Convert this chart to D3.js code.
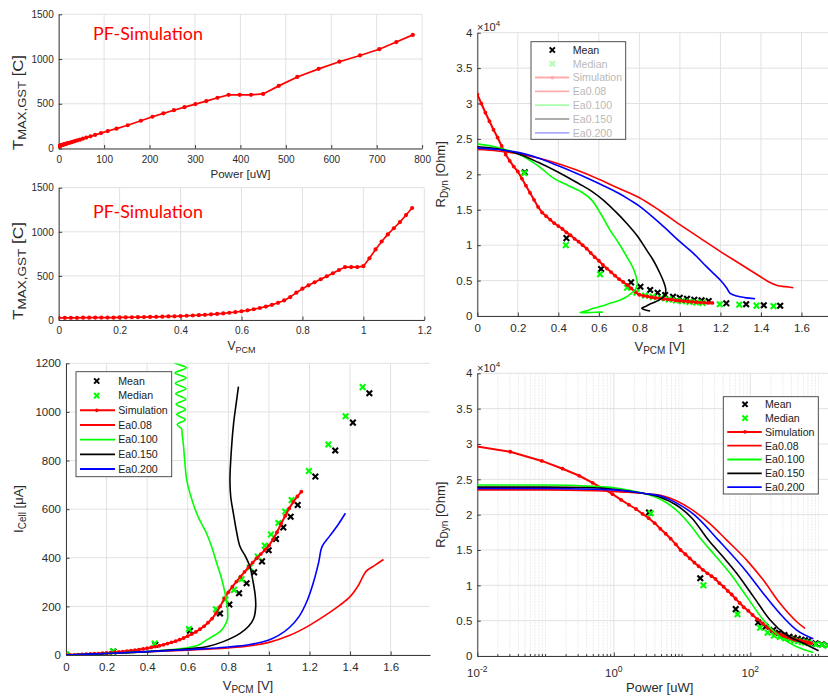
<!DOCTYPE html>
<html>
<head>
<meta charset="utf-8">
<title>PF-Simulation vs. measurement</title>
<script src="https://cdn.jsdelivr.net/npm/d3@7/dist/d3.min.js"></script>
<style>
  html, body { margin: 0; padding: 0; background: #ffffff; }
  svg { display: block; }
</style>
</head>
<body>
<script>
// ---------- phase-field simulation sweep ----------
const simV = [0,0.02,0.04,0.06,0.08,0.10,0.12,0.14,0.16,0.18,0.20,0.22,0.24,0.26,0.28,0.30,0.32,0.34,0.36,0.38,
  0.40,0.42,0.44,0.46,0.48,0.50,0.52,0.54,0.56,0.58,0.60,0.62,0.64,0.66,0.68,0.70,0.72,0.74,0.76,0.78,
  0.80,0.82,0.84,0.86,0.88,0.90,0.92,0.94,0.96,0.98,1.00,1.02,1.04,1.06,1.08,1.10,1.12,1.14,1.16];          // V_PCM [V]
const simI = [0,0.4,0.76,1.47,2.22,3.12,4.08,5.1,6.0,7.1,8.3,9.6,11.0,12.5,14.2,16,18,20,22.5,25,
  28,31,34.5,38,42,47,52,57,63,70,78,86,95,106,118,133,150,172,200,232,
  258,281,302,322,342,361,380,398,415,432,450,475,505,540,572,603,630,652,672];                            // I_Cell [uA]
const simTmax = [25,25,25,25,26,26,27,27,28,28,29,30,31,32,33,35,36,38,40,42,
  45,48,51,55,59,64,69,75,82,90,99,110,122,136,152,172,195,222,260,310,
  355,393,428,462,496,530,567,600,600,600,610,700,800,890,970,1040,1110,1190,1270];                       // T_MAX,GST [C]
const simRdynVsV = [3.13,3.00,2.87,2.75,2.63,2.52,2.40,2.28,2.19,2.11,2.04,1.94,1.84,1.74,1.64,1.54,1.46,1.41,1.36,1.31,
  1.27,1.23,1.18,1.14,1.09,1.05,1.00,0.95,0.89,0.83,0.78,0.72,0.67,0.62,0.57,0.52,0.48,0.44,0.39,0.34,
  0.30,0.285,0.275,0.265,0.255,0.25,0.24,0.235,0.23,0.22,0.215,0.21,0.205,0.20,0.195,0.19,0.19,0.185,0.185]; // R_Dyn [1e4 Ohm]
const simRdynVsP = [3.13,2.98,2.89,2.76,2.65,2.55,2.45,2.36,2.29,2.21,2.14,2.08,2.01,1.95,1.88,1.80,1.73,1.66,1.58,1.50,
  1.44,1.38,1.32,1.27,1.22,1.17,1.13,1.09,1.03,0.98,0.92,0.87,0.81,0.75,0.69,0.64,0.58,0.52,0.46,0.40,
  0.36,0.33,0.31,0.30,0.29,0.28,0.27,0.26,0.25,0.24,0.23,0.225,0.22,0.21,0.20,0.195,0.19,0.185,0.18];     // R_Dyn [1e4 Ohm]

// ---------- measured cells ----------
const meanV    = [0,0.234,0.44,0.611,0.759,0.805,0.853,0.890,0.927,0.966,0.999,1.035,1.071,1.107,1.142,1.229,1.327,1.414,1.495];
const meanI    = [1,14,42,100,171,208,254,295,340,385,431,477,525,569,617,734,841,956,1077];
const meanRdyn = [null,2.03,1.10,0.663,0.475,0.413,0.367,0.329,0.296,0.272,0.258,0.244,0.230,0.221,0.212,0.179,0.165,0.151,0.145];
const medianV    = [0,0.232,0.437,0.606,0.739,0.785,0.828,0.865,0.905,0.945,0.98,1.01,1.047,1.08,1.112,1.197,1.293,1.378,1.462];
const medianI    = [1,15,47,107,188,228,268,312,360,405,450,496,543,590,637,757,866,982,1102];
const medianRdyn = [null,2.02,1.0,0.59,0.40,0.33,0.29,0.27,0.25,0.235,0.22,0.21,0.20,0.19,0.185,0.165,0.16,0.146,0.14];

// ---------- compact model, activation-energy sweep ----------
const eaLabels = ["Ea0.08", "Ea0.100", "Ea0.150", "Ea0.200"];

// R_Dyn against V_PCM
const ea008VR = [0,0.1,0.2,0.3,0.4,0.5,0.6,0.7,0.8,0.9,1.0,1.1,1.2,1.3,1.4,1.44,1.48,1.52,1.56];
const ea008R  = [2.35,2.33,2.29,2.23,2.15,2.05,1.93,1.80,1.67,1.49,1.29,1.10,0.91,0.73,0.55,0.48,0.43,0.415,0.40];
const ea100VR = [0,0.1,0.2,0.3,0.374,0.45,0.52,0.565,0.61,0.655,0.70,0.738,0.765,0.779,0.79,0.786,0.779,0.76,0.738,0.70,0.655,0.615,0.573,0.54,0.507,0.56,0.62];
const ea100R  = [2.43,2.38,2.29,2.12,1.95,1.84,1.74,1.636,1.44,1.213,1.02,0.836,0.70,0.60,0.46,0.41,0.367,0.32,0.272,0.22,0.179,0.14,0.108,0.075,0.047,0.05,0.055];
const ea150VR = [0,0.1,0.2,0.3,0.4,0.5,0.56,0.622,0.68,0.738,0.79,0.836,0.87,0.902,0.92,0.93,0.928,0.918,0.902,0.88,0.853,0.83,0.812,0.83,0.853];
const ea150R  = [2.39,2.36,2.29,2.17,2.03,1.87,1.77,1.636,1.48,1.307,1.13,0.93,0.78,0.60,0.48,0.38,0.32,0.27,0.235,0.20,0.169,0.135,0.108,0.085,0.07];
const ea200VR = [0,0.1,0.2,0.3,0.4,0.5,0.6,0.7,0.754,0.8,0.902,1.0,1.067,1.13,1.199,1.23,1.248,1.281,1.32,1.371];
const ea200R  = [2.37,2.35,2.31,2.23,2.12,2.00,1.87,1.73,1.636,1.55,1.307,1.05,0.884,0.70,0.508,0.40,0.32,0.282,0.26,0.244];

// I_Cell against V_PCM
const ea008VI = [0,0.2,0.4,0.6,0.7,0.8,0.9,1.0,1.1,1.2,1.3,1.35,1.4,1.44,1.48,1.52,1.565];
const ea008I  = [0,6,13,20,24,29,37,52,80,122,175,205,240,285,345,368,393];
const ea100VI = [0,0.2,0.4,0.55,0.65,0.693,0.73,0.759,0.78,0.795,0.797,0.795,0.784,0.765,0.743,0.72,0.693,0.665,0.644,0.611,0.595,0.585,0.578,0.572,0.57,
  0.548,0.588,0.545,0.589,0.543,0.59,0.541,0.591,0.539,0.592,0.537,0.593,0.535,0.594];
const ea100I  = [0,6,14,24,40,62,80,96,118,144,170,199,254,320,377,440,500,545,583,665,720,800,870,912,930,
  948,968,990,1010,1032,1052,1075,1095,1118,1140,1160,1182,1203,1225];
const ea150VI = [0,0.2,0.4,0.53,0.62,0.693,0.775,0.858,0.9,0.925,0.935,0.932,0.92,0.907,0.885,0.858,0.84,0.825,0.812,0.808,0.815,0.826,0.838,0.85];
const ea150I  = [0,6,14,21,27,34,55,89,118,150,199,250,310,363,405,445,510,583,650,720,844,953,1030,1104];
const ea200VI = [0,0.2,0.4,0.6,0.7,0.8,0.9,1.0,1.05,1.1,1.15,1.19,1.22,1.245,1.262,1.3,1.34,1.377];
const ea200I  = [0,6,14,22,27,33,42,62,82,112,160,226,300,380,446,490,535,583];

// R_Dyn against power
const ea008P  = [0.01,0.1,0.5,1,2,2.8,5,8.1,15,25,45,88.5,155,272,478,632];
const ea008RP = [2.35,2.35,2.34,2.33,2.31,2.30,2.27,2.20,2.05,1.88,1.64,1.357,1.074,0.745,0.485,0.39];
const ea100P  = [0.01,0.1,0.5,1,2,2.8,5,8.1,13,19.4,30,50.5,88.5,155,272,478,838];
const ea100RP = [2.42,2.42,2.40,2.38,2.33,2.30,2.21,2.07,1.86,1.64,1.43,1.17,0.84,0.51,0.273,0.131,0.05];
const ea150P  = [0.01,0.1,0.5,1,2,2.8,5,8.1,14,24.3,40,63,111,195,339,600,1000];
const ea150RP = [2.39,2.39,2.38,2.36,2.32,2.30,2.24,2.14,1.95,1.64,1.40,1.17,0.84,0.51,0.297,0.18,0.075];
const ea200P  = [0.01,0.1,0.5,1,2,2.8,5,8.1,15,34,88.5,155,272,478,838];
const ea200RP = [2.37,2.37,2.36,2.35,2.32,2.30,2.26,2.17,2.0,1.64,1.19,0.886,0.60,0.367,0.245];

// ---------- tick values ----------
const powerTicks  = [0,100,200,300,400,500,600,700,800];
const tempTicks   = [0,500,1000,1500];
const vTicksShort = [0,0.2,0.4,0.6,0.8,1,1.2];
const vTicksLong  = [0,0.2,0.4,0.6,0.8,1,1.2,1.4,1.6];
const rdynTicks   = [0,0.5,1,1.5,2,2.5,3,3.5,4];
const iTicks      = [0,200,400,600,800,1000,1200];
const logMajor    = [0.01,1,100];

// ---------- styling ----------
const FONT = "'Liberation Sans', Arial, Helvetica, sans-serif";
const TXT = "#2b2b2b";
const AXC = "#3c3c3c";
const GRID = "#e1e1e1";
const MINOR = "#ebebeb";
const RED = "#ff0000", GREEN = "#00ff00", BLACK = "#000000", BLUE = "#0000ff";
const eaColors = [RED, GREEN, BLACK, BLUE];

const svg = d3.select("body").append("svg")
  .attr("width", 828).attr("height", 698)
  .attr("font-family", FONT);
const defs = svg.append("defs");

const zip = (a, b) => a.map((d, i) => [d, b[i]]);
const xMark = (s) => `M${-s},${-s}L${s},${s}M${-s},${s}L${s},${-s}`;

function panel(o) {
  const [xa, xb] = o.x.range();
  const [yb, ya] = o.y.range();
  const g = svg.append("g");
  defs.append("clipPath").attr("id", o.id)
    .append("rect").attr("x", xa).attr("y", ya).attr("width", xb - xa).attr("height", yb - ya);

  if (o.minorX) {
    g.append("g").selectAll("line").data(o.minorX).join("line")
      .attr("x1", d => o.x(d)).attr("x2", d => o.x(d)).attr("y1", ya).attr("y2", yb)
      .attr("stroke", MINOR).attr("stroke-width", 1).attr("stroke-dasharray", "2,1");
  }
  g.append("g").selectAll("line").data(o.xTicks).join("line")
    .attr("x1", d => o.x(d)).attr("x2", d => o.x(d)).attr("y1", ya).attr("y2", yb)
    .attr("stroke", GRID).attr("stroke-width", 1);
  g.append("g").selectAll("line").data(o.yTicks).join("line")
    .attr("x1", xa).attr("x2", xb).attr("y1", d => o.y(d)).attr("y2", d => o.y(d))
    .attr("stroke", GRID).attr("stroke-width", 1);

  const xAxis = d3.axisBottom(o.x).tickValues(o.xTicks).tickSizeInner(-3.5).tickSizeOuter(0)
    .tickPadding(o.xPad).tickFormat(o.xLog ? () => "" : d3.format("~g"));
  const gx = g.append("g").attr("transform", `translate(0,${yb})`).call(xAxis);
  const yAxis = d3.axisLeft(o.y).tickValues(o.yTicks).tickSizeInner(-3.5).tickSizeOuter(0)
    .tickPadding(5).tickFormat(d3.format("~g"));
  const gy = g.append("g").attr("transform", `translate(${xa},0)`).call(yAxis);
  [gx, gy].forEach(a => {
    a.attr("font-family", FONT).attr("font-size", o.fs);
    a.select(".domain").attr("stroke", AXC).attr("stroke-width", 1);
    a.selectAll(".tick line").attr("stroke", AXC).attr("stroke-width", 1);
    a.selectAll(".tick text").attr("fill", TXT);
  });
  if (o.minorX) {
    g.append("g").selectAll("line").data(o.minorX).join("line")
      .attr("x1", d => o.x(d)).attr("x2", d => o.x(d)).attr("y1", yb).attr("y2", yb - 2)
      .attr("stroke", AXC).attr("stroke-width", 1);
  }
  const plot = g.append("g").attr("clip-path", `url(#${o.id})`);
  return plot;
}

function rich(x, y, parts, opt = {}) {
  const t = svg.append("text").attr("fill", TXT).attr("text-anchor", opt.anchor || "middle");
  if (opt.rotate) t.attr("transform", `translate(${x},${y}) rotate(-90)`);
  else t.attr("x", x).attr("y", y);
  parts.forEach(p => t.append("tspan").attr("font-size", p.fs).attr("dy", p.dy || 0).text(p.t));
  if (opt.length) t.attr("textLength", opt.length).attr("lengthAdjust", "spacingAndGlyphs");
  return t;
}

function simTrace(plot, pts, x, y, lw, r) {
  plot.append("path").datum(pts)
    .attr("d", d3.line().x(d => x(d[0])).y(d => y(d[1])))
    .attr("fill", "none").attr("stroke", RED).attr("stroke-width", lw);
  plot.append("g").selectAll("circle").data(pts).join("circle")
    .attr("cx", d => x(d[0])).attr("cy", d => y(d[1])).attr("r", r).attr("fill", RED);
}
function crosses(plot, pts, x, y, color) {
  plot.append("g").selectAll("path").data(pts).join("path")
    .attr("transform", d => `translate(${x(d[0])},${y(d[1])})`)
    .attr("d", xMark(2.8)).attr("stroke", color).attr("stroke-width", 2.1).attr("fill", "none");
}
function modelLine(plot, pts, x, y, color, curve) {
  plot.append("path").datum(pts)
    .attr("d", d3.line().curve(curve).x(d => x(d[0])).y(d => y(d[1])))
    .attr("fill", "none").attr("stroke", color).attr("stroke-width", 1.6);
}

function legend(o) {
  const g = svg.append("g");
  g.append("rect").attr("x", o.x).attr("y", o.y).attr("width", o.w).attr("height", o.h)
    .attr("fill", "#ffffff").attr("stroke", "#3c3c3c").attr("stroke-width", 0.9);
  o.entries.forEach((e, i) => {
    const cy = o.row0 + i * o.step;
    const row = g.append("g").attr("opacity", (o.fadeFrom !== undefined && i >= o.fadeFrom) ? 0.32 : 1);
    if (e.kind === "x") {
      row.append("path").attr("transform", `translate(${o.mx},${cy})`).attr("d", xMark(2.6))
        .attr("stroke", e.color).attr("stroke-width", 2).attr("fill", "none");
    } else {
      row.append("line").attr("x1", o.lx1).attr("x2", o.lx2).attr("y1", cy).attr("y2", cy)
        .attr("stroke", e.color).attr("stroke-width", e.kind === "sim" ? 2 : 1.8);
      if (e.kind === "sim") row.append("circle").attr("cx", o.mx).attr("cy", cy).attr("r", 1.8).attr("fill", e.color);
    }
    row.append("text").attr("x", o.tx).attr("y", cy).attr("dy", "0.36em")
      .attr("font-size", o.fs).attr("fill", "#1a1a1a").text(e.label);
  });
}

const legendEntries = [
  { label: "Mean", kind: "x", color: BLACK },
  { label: "Median", kind: "x", color: GREEN },
  { label: "Simulation", kind: "sim", color: RED },
  ...eaLabels.map((l, i) => ({ label: l, kind: "line", color: eaColors[i] }))
];

// ================= Panel 1: T_max vs power =================
{
  const x = d3.scaleLinear().domain([0, 800]).range([58.7, 422.1]);
  const y = d3.scaleLinear().domain([0, 1500]).range([148.5, 14.3]);
  const plot = panel({ id: "c1", x, y, xTicks: powerTicks, yTicks: tempTicks, fs: 10, xPad: 7 });
  const pts = simV.map((v, i) => [v * simI[i], simTmax[i]]);
  simTrace(plot, pts, x, y, 1.7, 2.1);
  svg.append("text").attr("x", 93).attr("y", 39.5).attr("font-family", "Lato, 'Open Sans', sans-serif")
    .attr("font-size", 17.5).attr("fill", RED).attr("textLength", 110).attr("lengthAdjust", "spacingAndGlyphs")
    .text("PF-Simulation");
  rich(240.4, 177.5, [{ t: "Power [uW]", fs: 11.6 }]);
  rich(23.3, 150, [{ t: "T", fs: 14 }, { t: "MAX,GST", fs: 11, dy: 3 }, { t: " [C]", fs: 14, dy: -3 }],
    { rotate: true, anchor: "start", length: 95 });
}

// ================= Panel 2: T_max vs V_PCM =================
{
  const x = d3.scaleLinear().domain([0, 1.2]).range([58.7, 424.3]);
  const y = d3.scaleLinear().domain([0, 1500]).range([320, 187.7]);
  const plot = panel({ id: "c2", x, y, xTicks: vTicksShort, yTicks: tempTicks, fs: 10, xPad: 7 });
  simTrace(plot, zip(simV, simTmax), x, y, 1.7, 2.1);
  svg.append("text").attr("x", 93).attr("y", 217.5).attr("font-family", "Lato, 'Open Sans', sans-serif")
    .attr("font-size", 17.5).attr("fill", RED).attr("textLength", 110).attr("lengthAdjust", "spacingAndGlyphs")
    .text("PF-Simulation");
  rich(241.4, 350, [{ t: "V", fs: 12 }, { t: "PCM", fs: 9, dy: 3 }]);
  rich(23.3, 320, [{ t: "T", fs: 14 }, { t: "MAX,GST", fs: 11, dy: 3 }, { t: " [C]", fs: 14, dy: -3 }],
    { rotate: true, anchor: "start", length: 98 });
}

// ================= Panel 3: R_dyn vs V_PCM =================
{
  const x = d3.scaleLinear().domain([0, 1.8]).range([477.3, 842]);
  const y = d3.scaleLinear().domain([0, 4]).range([316, 32.7]);
  const plot = panel({ id: "c3", x, y, xTicks: vTicksLong, yTicks: rdynTicks, fs: 11.5, xPad: 8.3 });
  crosses(plot, zip(meanV, meanRdyn).filter(d => d[1] !== null), x, y, BLACK);
  crosses(plot, zip(medianV, medianRdyn).filter(d => d[1] !== null), x, y, GREEN);
  simTrace(plot, zip(simV, simRdynVsV), x, y, 2, 1.9);
  const curve = d3.curveCatmullRom.alpha(0.5);
  [[ea008VR, ea008R], [ea100VR, ea100R], [ea150VR, ea150R], [ea200VR, ea200R]]
    .forEach(([v, r], i) => modelLine(plot, zip(v, r), x, y, eaColors[i], curve));
  rich(477, 30.7, [{ t: "\u00d710", fs: 11 }, { t: "4", fs: 8, dy: -5 }], { anchor: "start" });
  rich(659.7, 350.5, [{ t: "V", fs: 13 }, { t: "PCM", fs: 10, dy: 3 }, { t: " [V]", fs: 13, dy: -3 }]);
  rich(445, 174.3, [{ t: "R", fs: 13 }, { t: "Dyn", fs: 10, dy: 3 }, { t: " [Ohm]", fs: 13, dy: -3 }], { rotate: true });
  legend({ x: 531, y: 41.7, w: 94.7, h: 97.6, row0: 50, step: 13.8, lx1: 535, lx2: 569.3, mx: 552.3, tx: 572.7,
    fs: 10.6, entries: legendEntries, fadeFrom: 1 });
}

// ================= Panel 4: I_cell vs V_PCM =================
{
  const x = d3.scaleLinear().domain([0, 1.794]).range([66, 430]);
  const y = d3.scaleLinear().domain([0, 1200]).range([655, 363.3]);
  const plot = panel({ id: "c4", x, y, xTicks: vTicksLong, yTicks: iTicks, fs: 11.5, xPad: 8.3 });
  crosses(plot, zip(meanV, meanI), x, y, BLACK);
  crosses(plot, zip(medianV, medianI), x, y, GREEN);
  simTrace(plot, zip(simV, simI), x, y, 2, 1.9);
  const curve = d3.curveCatmullRom.alpha(0.5);
  [[ea008VI, ea008I], [ea100VI, ea100I], [ea150VI, ea150I], [ea200VI, ea200I]]
    .forEach(([v, c], i) => modelLine(plot, zip(v, c), x, y, eaColors[i], curve));
  rich(248, 689.5, [{ t: "V", fs: 13 }, { t: "PCM", fs: 10, dy: 3 }, { t: " [V]", fs: 13, dy: -3 }]);
  rich(23.3, 509, [{ t: "I", fs: 13 }, { t: "Cell", fs: 10, dy: 3 }, { t: " [\u03bcA]", fs: 13, dy: -3 }], { rotate: true });
  legend({ x: 76, y: 371.7, w: 95.7, h: 105, row0: 381, step: 14.67, lx1: 80, lx2: 115, mx: 96.7, tx: 118.3,
    fs: 10.6, entries: legendEntries });
}

// ================= Panel 5: R_dyn vs power (log) =================
{
  const x = d3.scaleLog().domain([0.01, Math.pow(10, 3.343)]).range([477.3, 842]);
  const y = d3.scaleLinear().domain([0, 4]).range([656, 373.3]);
  const minor = [];
  for (let k = -2; k <= 3; k++) {
    for (let m = 1; m <= 9; m++) {
      const v = m * Math.pow(10, k);
      if (m === 1 && k % 2 === 0) continue;
      if (v <= x.domain()[1]) minor.push(v);
    }
  }
  const plot = panel({ id: "c5", x, y, xTicks: logMajor, yTicks: rdynTicks, fs: 11.5, xPad: 8.3, xLog: true, minorX: minor });
  crosses(plot, meanV.map((v, i) => [v * meanI[i], meanRdyn[i]]).filter(d => d[1] !== null), x, y, BLACK);
  crosses(plot, medianV.map((v, i) => [v * medianI[i], medianRdyn[i]]).filter(d => d[1] !== null), x, y, GREEN);
  simTrace(plot, simV.map((v, i) => [v * simI[i], simRdynVsP[i]]).filter(d => d[0] > 0), x, y, 2, 1.9);
  [[ea008P, ea008RP], [ea100P, ea100RP], [ea150P, ea150RP], [ea200P, ea200RP]]
    .forEach(([p, r], i) => modelLine(plot, zip(p, r), x, y, eaColors[i], d3.curveMonotoneX));
  logMajor.forEach(v => {
    rich(x(v), 677, [{ t: "10", fs: 11.5 }, { t: String(Math.round(Math.log10(v))), fs: 8.5, dy: -5 }]);
  });
  rich(477, 371.5, [{ t: "\u00d710", fs: 11 }, { t: "4", fs: 8, dy: -5 }], { anchor: "start" });
  rich(659.7, 692.4, [{ t: "Power [uW]", fs: 13 }]);
  rich(445, 514.7, [{ t: "R", fs: 13 }, { t: "Dyn", fs: 10, dy: 3 }, { t: " [Ohm]", fs: 13, dy: -3 }], { rotate: true });
  legend({ x: 723.3, y: 396.7, w: 95, h: 97.3, row0: 404.3, step: 13.8, lx1: 727.3, lx2: 761.7, mx: 745, tx: 765,
    fs: 10.6, entries: legendEntries });
}
</script>
</body>
</html>
